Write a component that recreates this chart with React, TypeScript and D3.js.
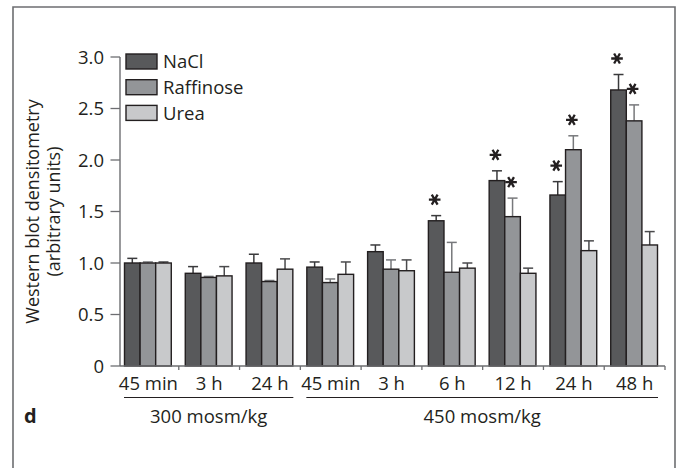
import { useMemo } from 'react'
import * as d3 from 'd3'

// Data
const groups = ['45 min', '3 h', '24 h', '45 min', '3 h', '6 h', '12 h', '24 h', '48 h']
const series = ['NaCl', 'Raffinose', 'Urea']
const naclValues = [1.0, 0.9, 1.0, 0.96, 1.11, 1.41, 1.8, 1.66, 2.68]
const naclErrors = [1.045, 0.965, 1.085, 1.01, 1.175, 1.46, 1.895, 1.79, 2.83]
const raffValues = [1.0, 0.86, 0.82, 0.81, 0.94, 0.91, 1.45, 2.1, 2.38]
const raffErrors = [1.01, 0.87, 0.83, 0.845, 1.03, 1.2, 1.63, 2.235, 2.535]
const ureaValues = [1.0, 0.875, 0.94, 0.89, 0.925, 0.95, 0.9, 1.12, 1.175]
const ureaErrors = [1.01, 0.965, 1.04, 1.01, 1.03, 1.0, 0.95, 1.215, 1.305]
// significance markers: [group index, series index]
const significant: [number, number][] = [[5, 0], [6, 0], [6, 1], [7, 0], [7, 1], [8, 0], [8, 1]]
const yTicks = [0, 0.5, 1.0, 1.5, 2.0, 2.5, 3.0]
const conditions = [
  { label: '300 mosm/kg', from: 0, to: 2 },
  { label: '450 mosm/kg', from: 3, to: 8 },
]

const fills = ['#58595b', '#939598', '#c8c9cb']
const errColors = ['#3a3a3c', '#77787b', '#4a4a4c']
const axisColor = '#6d6e71'
const ink = '#231f20'
const font = '"Open Sans", sans-serif'
const fs = 18.5

const W = 676
const H = 468
const margin = { top: 57, left: 120, bottom: 366, right: 665 }

export default function App() {
  const values = [naclValues, raffValues, ureaValues]
  const errors = [naclErrors, raffErrors, ureaErrors]

  const { x0, x1, y } = useMemo(() => {
    const x0 = d3.scaleBand<number>()
      .domain(groups.map((_, i) => i))
      .range([118, margin.right])
    const x1 = d3.scaleBand<string>()
      .domain(series)
      .range([6.5, x0.bandwidth() - 7.5])
    const y = d3.scaleLinear().domain([0, 3]).range([margin.bottom, margin.top])
    return { x0, x1, y }
  }, [])

  const barCenter = (g: number, s: number) => (x0(g) ?? 0) + (x1(series[s]) ?? 0) + x1.bandwidth() / 2
  const star = d3.range(3).map(i => {
    const a = (i * Math.PI) / 3
    return `M${-5.8 * Math.cos(a)},${-5.8 * Math.sin(a)}L${5.8 * Math.cos(a)},${5.8 * Math.sin(a)}`
  }).join('')

  return (
    <svg width={W} height={H} style={{ position: 'absolute', left: 0, top: 0, background: '#fff' }} fontFamily={font}>
      {/* frame */}
      <path d={`M13,${H + 2}V7H675V${H + 2}`} fill="none" stroke={axisColor} strokeWidth={1.6} />

      {/* y axis */}
      <line x1={margin.left} x2={margin.left} y1={y(3)} y2={y(0)} stroke={axisColor} strokeWidth={1.4} />
      {yTicks.map(t => (
        <g key={t} transform={`translate(0,${y(t)})`}>
          <line x1={margin.left - 9.5} x2={margin.left} stroke={axisColor} strokeWidth={1.3} />
          <text x={104} dy="0.36em" textAnchor="end" fontSize={fs} fill={ink}>
            {t === 0 ? '0' : t.toFixed(1)}
          </text>
        </g>
      ))}
      <text transform={`translate(39,${(y(0) + y(3)) / 2}) rotate(-90)`} textAnchor="middle" fontSize={fs - 0.5} fill={ink}>
        Western blot densitometry
      </text>
      <text transform={`translate(60,${(y(0) + y(3)) / 2}) rotate(-90)`} textAnchor="middle" fontSize={fs - 0.5} fill={ink}>
        (arbitrary units)
      </text>

      {/* bars */}
      {groups.map((_, g) => (
        <g key={g} transform={`translate(${x0(g)},0)`}>
          {series.map((s, si) => {
            const bx = x1(s) ?? 0
            const cx = bx + x1.bandwidth() / 2
            return (
              <g key={s}>
                <line x1={cx} x2={cx} y1={y(values[si][g])} y2={y(errors[si][g])} stroke={errColors[si]} strokeWidth={1.5} />
                <line x1={cx - 5} x2={cx + 5} y1={y(errors[si][g])} y2={y(errors[si][g])} stroke={errColors[si]} strokeWidth={1.5} />
                <rect x={bx} y={y(values[si][g])} width={x1.bandwidth()} height={y(0) - y(values[si][g])}
                  fill={fills[si]} stroke={ink} strokeWidth={1.4} />
              </g>
            )
          })}
        </g>
      ))}

      {/* significance */}
      {significant.map(([g, s]) => (
        <path key={`${g}-${s}`} d={star} transform={`translate(${barCenter(g, s) - 1.5},${y(errors[s][g]) - 16})`}
          stroke={ink} strokeWidth={2.3} fill="none" />
      ))}

      {/* x axis */}
      <line x1={margin.left} x2={margin.right} y1={y(0)} y2={y(0)} stroke={axisColor} strokeWidth={1.4} />
      {groups.map((label, g) => (
        <g key={g}>
          {g > 0 && <line x1={x0(g)} x2={x0(g)} y1={y(0)} y2={y(0) + 4} stroke={axisColor} strokeWidth={1.3} />}
          {g === groups.length - 1 && (
            <line x1={margin.right} x2={margin.right} y1={y(0)} y2={y(0) + 4} stroke={axisColor} strokeWidth={1.3} />
          )}
          <text x={(x0(g) ?? 0) + x0.bandwidth() / 2} y={389.5} textAnchor="middle" fontSize={fs} fill={ink}>
            {label}
          </text>
        </g>
      ))}

      {/* condition brackets */}
      {conditions.map(c => {
        const xa = (x0(c.from) ?? 0) + 6
        const xb = (x0(c.to) ?? 0) + x0.bandwidth() - 7
        return (
          <g key={c.label}>
            <line x1={xa} x2={xb} y1={397.5} y2={397.5} stroke={ink} strokeWidth={1.2} />
            <text x={(xa + xb) / 2} y={423} textAnchor="middle" fontSize={fs} fill={ink}>{c.label}</text>
          </g>
        )
      })}

      {/* legend */}
      {series.map((s, i) => (
        <g key={s} transform={`translate(126,${54 + i * 25.7})`}>
          <rect width={31} height={15} fill={fills[i]} stroke={ink} strokeWidth={1.4} />
          <text x={37} y={7.5} dy="0.36em" fontSize={fs} fill={ink}>{s}</text>
        </g>
      ))}

      <text x={24} y={423} fontSize={20} fontWeight="bold" fill={ink}>d</text>
    </svg>
  )
}
